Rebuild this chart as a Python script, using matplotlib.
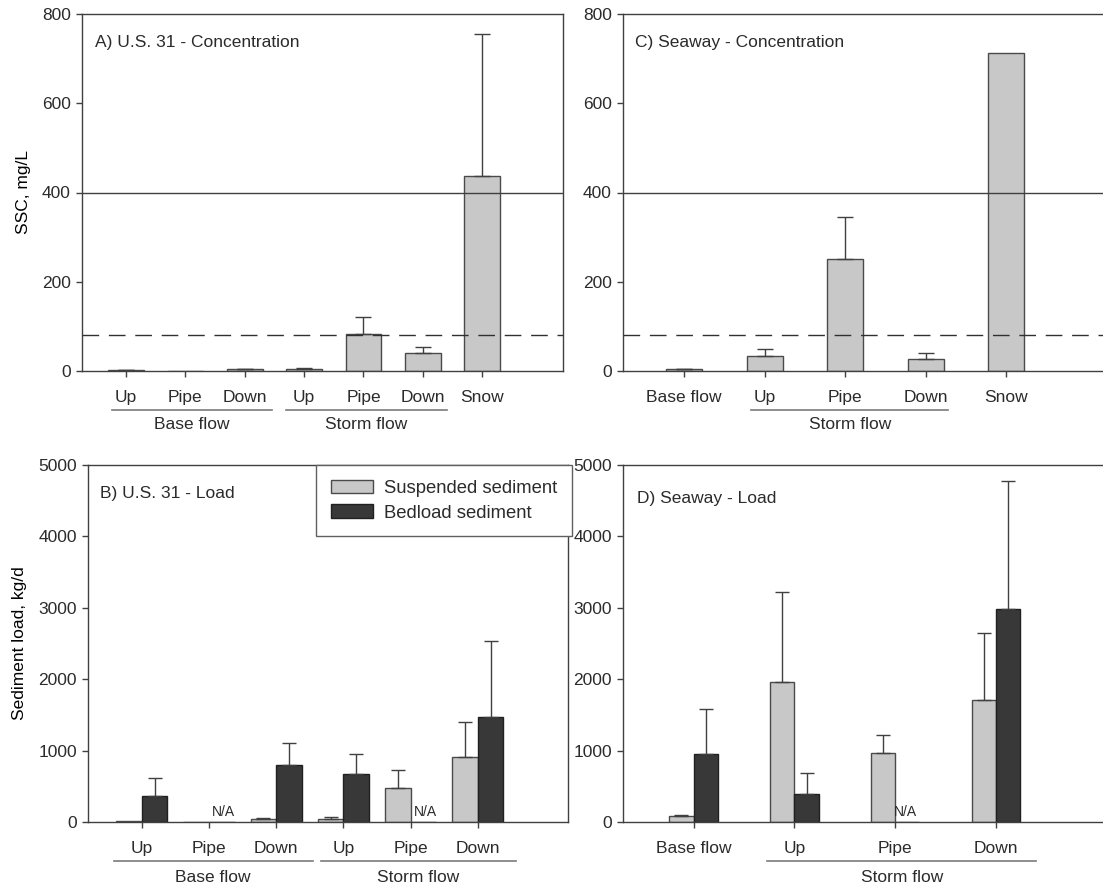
import numpy as np
import matplotlib
matplotlib.use('Agg')
import matplotlib.pyplot as plt
from matplotlib.patches import Patch
from matplotlib.transforms import blended_transform_factory

plt.rcParams['font.family'] = ['Liberation Sans', 'DejaVu Sans']
plt.rcParams['font.size'] = 12.5
plt.rcParams['text.color'] = '#2b2b2b'
plt.rcParams['xtick.color'] = '#404040'
plt.rcParams['ytick.color'] = '#404040'
plt.rcParams['xtick.labelcolor'] = '#2b2b2b'
plt.rcParams['ytick.labelcolor'] = '#2b2b2b'

# A) U.S. 31 suspended sediment concentration, mg/L (mean and +1 SD)
a_labels = ['Up', 'Pipe', 'Down', 'Up', 'Pipe', 'Down', 'Snow']
a_ssc = [2, 0, 4, 4, 82, 40, 436]
a_err = [1, 0, 1, 2, 39, 14, 320]

# C) Seaway suspended sediment concentration, mg/L
c_labels = ['Base flow', 'Up', 'Pipe', 'Down', 'Snow']
c_ssc = [4, 34, 252, 27, 713]
c_err = [0.5, 15, 92, 13, 0]

# B) U.S. 31 sediment load, kg/d (nan = not available)
b_labels = ['Up', 'Pipe', 'Down', 'Up', 'Pipe', 'Down']
b_susp = [10, 0, 42, 42, 480, 905]
b_susp_err = [0, 0, 14, 23, 243, 490]
b_bed = [359, np.nan, 802, 672, np.nan, 1465]
b_bed_err = [252, np.nan, 308, 284, np.nan, 1068]

# D) Seaway sediment load, kg/d
d_labels = ['Base flow', 'Up', 'Pipe', 'Down']
d_susp = [79, 1959, 961, 1707]
d_susp_err = [14, 1259, 252, 947]
d_bed = [956, 387, np.nan, 2985]
d_bed_err = [620, 303, np.nan, 1796]

# SSC reference lines
ssc_line_solid = 400
ssc_line_dashed = 80

LIGHT = '#c8c8c8'
DARK = '#383838'
EDGE = '#4a4a4a'
AX = '#404040'

W, H = 1103, 890
fig = plt.figure(figsize=(W / 100, H / 100), dpi=100)


def box(x0, y0, x1, y1):
    # pixel box (top-left origin) -> figure fraction rect
    return [x0 / W, 1 - y1 / H, (x1 - x0) / W, (y1 - y0) / H]


def style_axes(ax, hide_right=False):
    for s in ax.spines.values():
        s.set_color(AX)
        s.set_linewidth(1.0)
    if hide_right:
        ax.spines['right'].set_visible(False)
    ax.tick_params(axis='y', direction='out', length=4, width=1, pad=4)
    ax.tick_params(axis='x', direction='out', length=4, width=1, pad=10)
    ax.tick_params(top=False, right=False)


def errbars(ax, x, vals, errs, cap):
    x = np.asarray(x, float)
    vals = np.asarray(vals, float)
    errs = np.asarray(errs, float)
    ok = np.isfinite(vals) & np.isfinite(errs) & (errs > 0)
    ax.errorbar(x[ok], vals[ok], yerr=[np.zeros(ok.sum()), errs[ok]],
                fmt='none', ecolor=AX, elinewidth=1.0, capsize=cap,
                capthick=1.0, zorder=2)


def groups(ax, spans, line_y, text_y):
    tr = blended_transform_factory(ax.transData, fig.transFigure)
    for name, x0, x1 in spans:
        ax.plot([x0, x1], [1 - line_y / H] * 2, color='#7a7a7a', lw=1.2,
                transform=tr, clip_on=False)
        ax.text((x0 + x1) / 2, 1 - text_y / H, name, transform=tr,
                ha='center', va='center')


# ---- A) U.S. 31 - Concentration
axA = fig.add_axes(box(82, 14, 563, 371))
xa = np.arange(len(a_labels))
axA.bar(xa, a_ssc, width=0.6, color=LIGHT, edgecolor=EDGE, linewidth=1.0, zorder=1)
errbars(axA, xa, a_ssc, a_err, 6)
axA.axhline(ssc_line_solid, color=AX, lw=1.0, zorder=3)
axA.axhline(ssc_line_dashed, color='#303030', lw=1.0, dashes=(12, 7), zorder=3)
axA.set_xlim(-0.74, 7.36)
axA.set_ylim(0, 800)
axA.set_yticks([0, 200, 400, 600, 800])
axA.set_xticks(xa)
axA.set_xticklabels(a_labels)
axA.set_ylabel('SSC, mg/L', labelpad=8)
axA.text(0.027, 0.92, 'A) U.S. 31 - Concentration', transform=axA.transAxes,
         ha='left', va='center')
style_axes(axA)
groups(axA, [('Base flow', -0.24, 2.46), ('Storm flow', 2.69, 5.40)], 410, 425)

# ---- C) Seaway - Concentration
axC = fig.add_axes(box(623, 14, 1103, 371))
xc = np.arange(len(c_labels))
axC.bar(xc, c_ssc, width=0.45, color=LIGHT, edgecolor=EDGE, linewidth=1.0, zorder=1)
errbars(axC, xc, c_ssc, c_err, 6)
axC.axhline(ssc_line_solid, color=AX, lw=1.0, zorder=3)
axC.axhline(ssc_line_dashed, color='#303030', lw=1.0, dashes=(12, 7), zorder=3)
axC.set_xlim(-0.76, 5.2)
axC.set_ylim(0, 800)
axC.set_yticks([0, 200, 400, 600, 800])
axC.set_xticks(xc)
axC.set_xticklabels(c_labels)
axC.text(0.025, 0.92, 'C) Seaway - Concentration', transform=axC.transAxes,
         ha='left', va='center')
style_axes(axC, hide_right=True)
groups(axC, [('Storm flow', 0.83, 3.28)], 410, 425)

# ---- B) U.S. 31 - Load
axB = fig.add_axes(box(88, 465, 568, 822))
xb = np.arange(len(b_labels))
wb = 0.38
axB.bar(xb, b_susp, width=-wb, align='edge', color=LIGHT, edgecolor=EDGE,
        linewidth=1.0, zorder=1)
bed_b = np.nan_to_num(b_bed)
axB.bar(xb, bed_b, width=wb, align='edge', color=DARK, edgecolor='#202020',
        linewidth=1.0, zorder=1)
errbars(axB, xb - wb / 2, b_susp, b_susp_err, 5)
errbars(axB, xb + wb / 2, b_bed, b_bed_err, 5)
for xi, v in zip(xb, b_bed):
    if np.isnan(v):
        axB.text(xi + 0.05, 40, 'N/A', fontsize=10, ha='left', va='bottom')
axB.set_xlim(-0.80, 6.34)
axB.set_ylim(0, 5000)
axB.set_yticks([0, 1000, 2000, 3000, 4000, 5000])
axB.set_xticks(xb)
axB.set_xticklabels(b_labels)
axB.set_ylabel('Sediment load, kg/d', labelpad=8)
axB.text(0.025, 0.92, 'B) U.S. 31 - Load', transform=axB.transAxes,
         ha='left', va='center')
style_axes(axB)
groups(axB, [('Base flow', -0.42, 2.54), ('Storm flow', 2.66, 5.57)], 861, 877)

# ---- D) Seaway - Load
axD = fig.add_axes(box(623, 465, 1103, 822))
xd = np.arange(len(d_labels))
wd = 0.24
axD.bar(xd, d_susp, width=-wd, align='edge', color=LIGHT, edgecolor=EDGE,
        linewidth=1.0, zorder=1)
bed_d = np.nan_to_num(d_bed)
axD.bar(xd, bed_d, width=wd, align='edge', color=DARK, edgecolor='#202020',
        linewidth=1.0, zorder=1)
errbars(axD, xd - wd / 2, d_susp, d_susp_err, 5)
errbars(axD, xd + wd / 2, d_bed, d_bed_err, 5)
for xi, v in zip(xd, d_bed):
    if np.isnan(v):
        axD.text(xi - 0.01, 40, 'N/A', fontsize=10, ha='left', va='bottom')
axD.set_xlim(-0.70, 4.06)
axD.set_ylim(0, 5000)
axD.set_yticks([0, 1000, 2000, 3000, 4000, 5000])
axD.set_xticks(xd)
axD.set_xticklabels(d_labels)
axD.text(0.03, 0.905, 'D) Seaway - Load', transform=axD.transAxes,
         ha='left', va='center')
style_axes(axD, hide_right=True)
groups(axD, [('Storm flow', 0.73, 3.40)], 861, 877)

# legend sits over the top right of panel B
handles = [Patch(facecolor=LIGHT, edgecolor=EDGE, linewidth=1.0, label='Suspended sediment'),
           Patch(facecolor=DARK, edgecolor='#202020', linewidth=1.0, label='Bedload sediment')]
leg = fig.legend(handles=handles, loc='upper left', fontsize=13.3,
                 bbox_to_anchor=(316 / W, 1 - 465 / H), borderaxespad=0,
                 fancybox=False, framealpha=1, edgecolor='#606060',
                 handlelength=2.3, handleheight=0.76, handletextpad=0.6,
                 labelspacing=0.4, borderpad=0.8)
leg.get_frame().set_linewidth(1.0)
leg.set_zorder(10)

fig.savefig('out.png', dpi=100, facecolor='white')
